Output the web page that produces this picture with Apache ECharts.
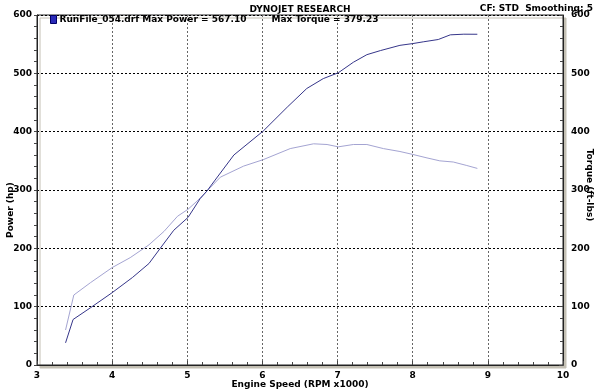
<!DOCTYPE html>
<html>
<head>
<meta charset="utf-8">
<script src="https://cdn.jsdelivr.net/npm/echarts@6/dist/echarts.min.js"></script>
<style>html,body{margin:0;padding:0;background:#fff}#c{width:600px;height:390px}</style>
</head>
<body>
<div id="c"></div>
<script>
var rpmPower = [3.38, 3.48, 3.71, 4.00, 4.27, 4.49, 4.64, 4.82, 5.01, 5.17, 5.26, 5.37, 5.62, 6.01, 6.33, 6.59, 6.81, 7.01, 7.21, 7.39, 7.57, 7.83, 8.00, 8.14, 8.34, 8.50, 8.68, 8.86];
var power    = [38, 78, 98, 124, 150, 174, 200, 231, 253, 285, 298, 317, 360, 401, 442, 474, 491, 501, 519, 532, 539, 548, 551, 554, 558, 566, 567.1, 567];
var rpmTorque = [3.38, 3.49, 3.71, 4.00, 4.24, 4.49, 4.69, 4.87, 5.01, 5.13, 5.26, 5.44, 5.75, 6.01, 6.37, 6.68, 6.86, 7.01, 7.21, 7.39, 7.61, 7.83, 8.00, 8.19, 8.36, 8.54, 8.72, 8.86];
var torque    = [60, 120, 141, 167, 184, 206, 229, 255, 267, 281, 298, 322, 341, 352, 371, 379.2, 378, 374, 378, 378, 371, 366, 361, 355, 350, 348, 342, 337];
var xTicks = [3, 10, 1];
var yTicks = [0, 600, 100];
var chartTitle = 'DYNOJET RESEARCH';
var infoText = 'CF: STD  Smoothing: 5';
var legendPower = 'RunFile_054.drf Max Power = 567.10';
var legendTorque = 'Max Torque = 379.23';

function pairs(xs, ys) { return xs.map(function (x, i) { return [x, ys[i]]; }); }

var FONT = 'Verdana, "DejaVu Sans", sans-serif';
var lbl = { color: '#000', fontWeight: 'bold', fontSize: 9, fontFamily: FONT };

var chart = echarts.init(document.getElementById('c'), null, { renderer: 'canvas' });
chart.setOption({
  animation: false,
  backgroundColor: '#fff',
  title: [
    { text: chartTitle, left: 'center', top: 0, textStyle: { fontSize: 9, fontWeight: 'bold', fontFamily: FONT, color: '#000' } },
    { text: infoText, right: 2, top: -1, z: 10, textStyle: { fontSize: 9, fontWeight: 'bold', fontFamily: FONT, color: '#000' } }
  ],
  legend: {
    left: 45, top: 10, itemWidth: 6, itemHeight: 8, itemGap: 16,
    data: [
      { name: 'Power', icon: 'rect', itemStyle: { color: '#2a2ab8', borderColor: '#000066', borderWidth: 1 } },
      { name: 'Torque', icon: 'none' }
    ],
    formatter: function (n) { return n === 'Power' ? legendPower : legendTorque; },
    textStyle: { fontSize: 9, fontWeight: 'bold', fontFamily: FONT, color: '#000', padding: [0, 0, 0, -2] },
    selectedMode: false
  },
  grid: {
    left: 37, right: 37, top: 15, bottom: 25, outerBoundsMode: 'none', containLabel: false,
    show: true, backgroundColor: '#fff', borderColor: '#222', borderWidth: 1,
    shadowColor: '#c4c0b4', shadowBlur: 0, shadowOffsetX: 3, shadowOffsetY: 3
  },
  xAxis: [{
    type: 'value', min: xTicks[0], max: xTicks[1], interval: xTicks[2],
    name: 'Engine Speed (RPM x1000)', nameLocation: 'middle', nameGap: 15, nameMoveOverlap: false,
    nameTextStyle: { fontSize: 9, fontWeight: 'bold', fontFamily: FONT, color: '#000' },
    axisLine: { show: true, lineStyle: { color: '#222', width: 1 } },
    axisTick: { show: true, inside: true, length: 4, lineStyle: { color: '#444' } },
    minorTick: { show: true, splitNumber: 5, length: 3, lineStyle: { color: '#444' } },
    axisLabel: Object.assign({ margin: 6 }, lbl),
    splitLine: { show: true, lineStyle: { color: '#666', type: [2, 2], width: 1 } }
  }],
  yAxis: [{
    type: 'value', min: yTicks[0], max: yTicks[1], interval: yTicks[2], position: 'left',
    name: 'Power (hp)', nameLocation: 'middle', nameGap: 22, nameRotate: 90, nameMoveOverlap: false,
    nameTextStyle: { fontSize: 9, fontWeight: 'bold', fontFamily: FONT, color: '#000', padding: [0, 40, 0, 0] },
    axisLine: { show: true, lineStyle: { color: '#222', width: 1 } },
    axisTick: { show: true, inside: false, length: 3, lineStyle: { color: '#444' } },
    minorTick: { show: true, splitNumber: 5, length: 3, lineStyle: { color: '#444' } },
    axisLabel: Object.assign({ margin: 5 }, lbl),
    splitLine: { show: true, lineStyle: { color: '#000', type: [2, 2], width: 1 } }
  }, {
    type: 'value', min: yTicks[0], max: yTicks[1], interval: yTicks[2], position: 'right',
    name: 'Torque (ft-lbs)', nameLocation: 'middle', nameGap: 22, nameRotate: -90, nameMoveOverlap: false,
    nameTextStyle: { fontSize: 9, fontWeight: 'bold', fontFamily: FONT, color: '#000', padding: [0, 10, 0, 0] },
    axisLine: { show: true, lineStyle: { color: '#222', width: 1 } },
    axisTick: { show: true, inside: true, length: 4, lineStyle: { color: '#444' } },
    minorTick: { show: true, splitNumber: 5, length: 3, lineStyle: { color: '#444' } },
    axisLabel: Object.assign({ margin: 8 }, lbl),
    splitLine: { show: false }
  }],
  series: [{
    name: 'Power', type: 'line', xAxisIndex: 0, yAxisIndex: 0,
    data: pairs(rpmPower, power), showSymbol: false, symbol: 'none', smooth: false,
    lineStyle: { color: '#36368a', width: 1 }, itemStyle: { color: '#2a2ab8' }, z: 3
  }, {
    name: 'Torque', type: 'line', xAxisIndex: 0, yAxisIndex: 1,
    data: pairs(rpmTorque, torque), showSymbol: false, symbol: 'none', smooth: false,
    lineStyle: { color: '#a4a4d2', width: 1 }, itemStyle: { color: '#a4a4d2' }, z: 2
  }]
});
</script>
</body>
</html>
